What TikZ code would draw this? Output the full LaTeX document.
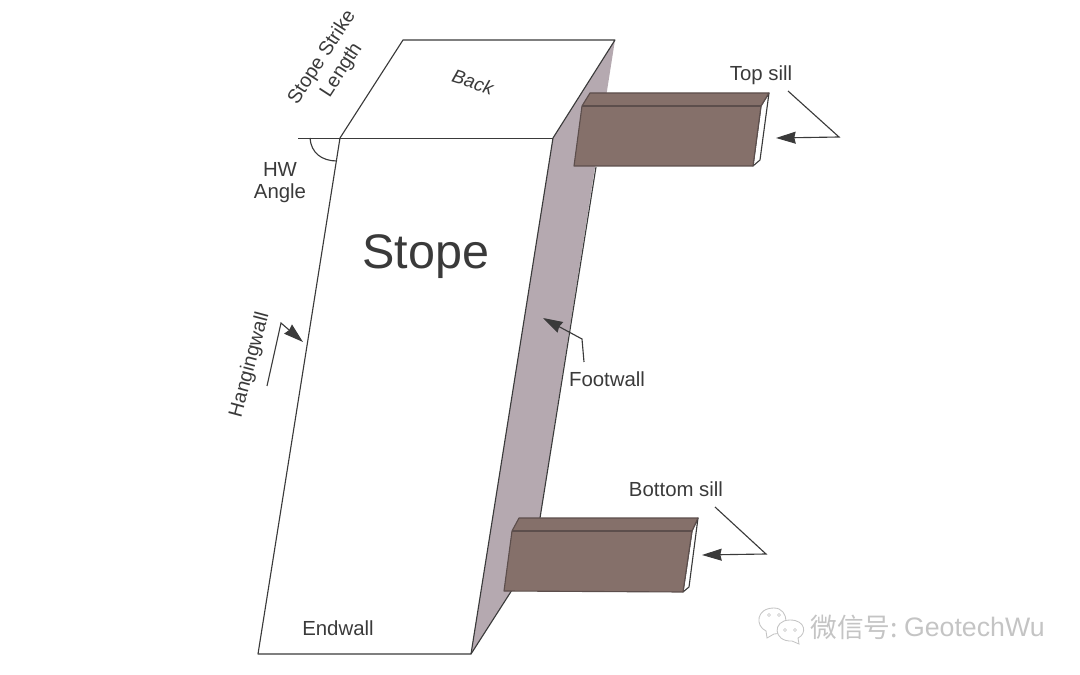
\documentclass[tikz,border=0pt]{standalone}
\usepackage{fontspec}
\setmainfont{Liberation Sans}
\newfontfamily\cjk{Noto Sans CJK SC}
\usepackage{xcolor}
\usetikzlibrary{arrows.meta, positioning, calc}
\definecolor{sillbrown}{HTML}{85706A}
\definecolor{silledge}{HTML}{5C4E4C}
\definecolor{footgrey}{HTML}{B5A9B0}
\definecolor{inkgrey}{HTML}{3A3A3A}
\definecolor{markgrey}{HTML}{C4C4C4}
\tikzset{
  wall/.style={draw=inkgrey, line width=0.8pt, line join=round},
  sillface/.style={draw=silledge, line width=0.8pt, line join=round},
  pointer/.style={draw=inkgrey, line width=0.8pt, -{Stealth[length=14pt, width=8.5pt, inset=1pt]}},
  walllabel/.style={text=inkgrey, font=\fontsize{14.5}{15.6}\selectfont, inner sep=0pt, align=center},
  marktext/.style={text=markgrey, font=\fontsize{19}{22}\selectfont, inner sep=0pt},
  bubble/.style={draw=markgrey, line width=0.6pt, fill=white},
}

\begin{document}
\begin{tikzpicture}[x=0.025cm, y=-0.025cm]
\useasboundingbox (0,0) rectangle (1080,675);

% ---------------- Footwall ----------------
\fill[footgrey] (615,40) -- (553,138) -- (471,654) -- (534,555) -- cycle;
\draw[wall] (596,167) -- (540,518);
\draw[wall] (471,654) -- (512,590);

% ---------------- Stope and back ----------------
\draw[wall] (340,138) -- (403,40) -- (615,40) -- (553,138);
\draw[wall] (340,138) -- (258,654) -- (471,654) -- (553,138);
\draw[wall, line width=0.6pt] (298,138.4) -- (553,138.4);
\draw[wall] (310,138) .. controls (311,153) and (322,161) .. (337,161);

% ---------------- Top sill ----------------
\begin{scope}
\draw[wall, fill=white] (753,166) -- (761,106) -- (769,93) -- (760,160) -- cycle;
\fill[sillbrown] (574,166) -- (582,106) -- (590,93) -- (769,93) -- (761,106) -- (753,166) -- cycle;
\draw[sillface] (574,166) -- (582,106) -- (590,93) -- (769,93) -- (761,106) -- (753,166) -- cycle;
\draw[silledge, line width=1pt] (582,106) -- (761,106);
\end{scope}

% ---------------- Bottom sill ----------------
\begin{scope}
\draw[wall, fill=white] (683,592) -- (692,531) -- (698,518) -- (689,587) -- cycle;
\fill[sillbrown] (504,591) -- (512,531) -- (519,518) -- (698,518) -- (692,531) -- (683,592) -- cycle;
\draw[sillface] (504,591) -- (512,531) -- (519,518) -- (698,518) -- (692,531) -- (683,592) -- cycle;
\draw[silledge, line width=1pt] (512,531) -- (692,531);
\end{scope}

% Labels
\node[text=inkgrey, font=\fontsize{34.5}{40}\selectfont, inner sep=0pt] (stope) at (426,257) {Stope};
\node[walllabel, rotate=-18, font=\fontsize{13.5}{15.6}\selectfont\itshape] (back) at (473,82) {Back};
\node[walllabel, rotate=57, font=\fontsize{14}{16.5}\selectfont] (strike) at (332,64) {Stope Strike\\Length};
\node[walllabel] (angle) at (280,183) {HW\\Angle};
\node[walllabel, rotate=75, font=\fontsize{14}{16}\selectfont] (hanging) at (250,365) {Hangingwall};
\node[walllabel] (endwall) at (338,628) {Endwall};
\node[walllabel] (footwall) at (607,379) {Footwall};
\node[walllabel] (topsill) at (761,75) {Top sill};
\node[walllabel] (bottomsill) at (676,489) {Bottom sill};

% Pointers
\coordinate (topa) at (788,91);
\coordinate (topb) at (839,137);
\coordinate (topc) at (776,138);
\draw[pointer] (topa) -- (topb) -- (topc);
\coordinate (bota) at (715,507);
\coordinate (botb) at (766,554);
\coordinate (botc) at (702,555);
\draw[pointer] (bota) -- (botb) -- (botc);
\coordinate (hanga) at (267,386);
\coordinate (hangb) at (281,323);
\coordinate (hangc) at (303,342);
\draw[pointer] (hanga) -- (hangb) -- (hangc);
\coordinate (foota) at (584,362);
\coordinate (footb) at (582,339);
\coordinate (footc) at (543,318);
\draw[pointer] (foota) -- (footb) -- (footc);

% ---------------- Watermark ----------------
\draw[bubble] (766,631) -- (767,638) -- (774,634) .. controls (790,634) and (790,608) .. (774,608) .. controls (756,608) and (755,626) .. (766,631) -- cycle;
\draw[bubble] (798,638) -- (799,644) -- (792,641) .. controls (773,642) and (772,620) .. (790,620) .. controls (806,620) and (807,634) .. (798,638) -- cycle;
\foreach \x/\y in {769/615,779/615,785/630,795/630} \draw[markgrey] (\x,\y) circle (1.5);
\node[marktext, anchor=west] (markcn) at (810,627) {\cjk 微信号:};
\node[marktext, right=4pt of markcn] (markname) {GeotechWu};
\end{tikzpicture}
\end{document}
